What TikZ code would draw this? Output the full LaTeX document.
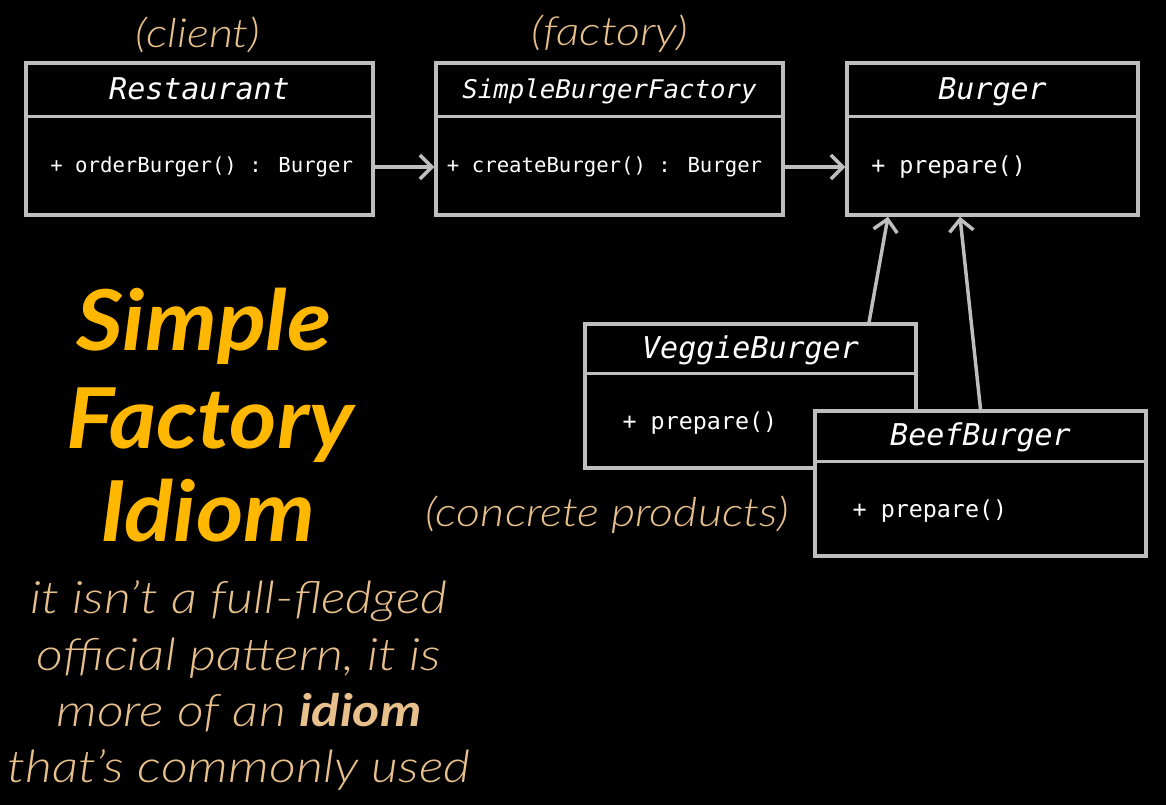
\documentclass[tikz,border=0pt]{standalone}
\usepackage{fontspec}
\usetikzlibrary{arrows.meta,calc}

\newfontfamily\codefont{DejaVu Sans Mono}
\newfontfamily\slidefont{Lato}[ItalicFont={Lato Light Italic},BoldItalicFont={Lato Bold Italic},FakeStretch=1.17]
\newfontfamily\headfont{Lato}[ItalicFont={Lato Light Italic},BoldItalicFont={Lato Bold Italic},FakeStretch=1.08]

\definecolor{boxgray}{HTML}{BEBEBE}
\definecolor{titleorange}{HTML}{FFB700}
\definecolor{notetan}{HTML}{E8C08C}

\tikzset{
  umlbox/.style={draw=boxgray, line width=2.6pt, fill=black, inner sep=0pt},
  divider/.style={draw=boxgray, line width=2.6pt},
  classname/.style={text=white, anchor=base, font=\codefont\itshape\fontsize{22.5}{26}\selectfont},
  method/.style={text=white, anchor=west, font=\codefont\fontsize{15.5}{18}\selectfont},
  bigmethod/.style={method, font=\codefont\fontsize{17.5}{20}\selectfont},
  note/.style={text=notetan, anchor=base, font=\slidefont\itshape\fontsize{30}{34}\selectfont},
  bigtitle/.style={text=titleorange, anchor=base, font=\headfont\bfseries\itshape\fontsize{63}{66}\selectfont},
  subtitle/.style={text=notetan, anchor=base, font=\slidefont\itshape\fontsize{33.5}{36}\selectfont},
  arr/.style={draw=boxgray, line width=2.6pt, -{Straight Barb[length=9pt,width=18pt,line width=2.6pt]}}
}

\begin{document}
\begin{tikzpicture}[x=0.75pt,y=-0.75pt]
  \fill[black] (0,0) rectangle (1166,805);
  \useasboundingbox (0,0) rectangle (1166,805);

  % top row
  \node[umlbox, minimum width=260.25pt, minimum height=114pt] (rest) at (199.5,139) {};
  \draw[divider] ([yshift=-41.25pt]rest.north west) -- ([yshift=-41.25pt]rest.north east);
  \node[classname] (restname) at ([yshift=-28.5pt]rest.north) {Restaurant};
  \node[method] (restop) at ([xshift=16pt,yshift=-21pt]rest.west) {+ orderBurger() : Burger};

  \node[umlbox, minimum width=260.25pt, minimum height=114pt] (fact) at (609.5,139) {};
  \draw[divider] ([yshift=-41.25pt]fact.north west) -- ([yshift=-41.25pt]fact.north east);
  \node[classname, font=\codefont\itshape\fontsize{19.3}{22}\selectfont] (factname) at ([yshift=-27.75pt]fact.north) {SimpleBurgerFactory};
  \node[method] (factop) at ([xshift=6pt,yshift=-21pt]fact.west) {+ createBurger() : Burger};

  \node[umlbox, minimum width=218.25pt, minimum height=114pt] (burger) at (992.5,139) {};
  \draw[divider] ([yshift=-41.25pt]burger.north west) -- ([yshift=-41.25pt]burger.north east);
  \node[classname] (burgername) at ([yshift=-28.5pt]burger.north) {Burger};
  \node[bigmethod] (burgerop) at ([xshift=16pt,yshift=-21pt]burger.west) {+ prepare()};

  % concrete products
  \node[umlbox, minimum width=248.25pt, minimum height=108pt] (veggie) at (750.5,396) {};
  \draw[divider] ([yshift=-38.25pt]veggie.north west) -- ([yshift=-38.25pt]veggie.north east);
  \node[classname] (veggiename) at ([yshift=-27pt]veggie.north) {VeggieBurger};
  \node[bigmethod] (veggieop) at ([xshift=26pt,yshift=-20.5pt]veggie.west) {+ prepare()};

  \node[umlbox, minimum width=248.25pt, minimum height=108.75pt] (beef) at (980.5,483.5) {};
  \draw[divider] ([yshift=-39pt]beef.north west) -- ([yshift=-39pt]beef.north east);
  \node[classname] (beefname) at ([yshift=-27pt]beef.north) {BeefBurger};
  \node[bigmethod] (beefop) at ([xshift=26pt,yshift=-20.5pt]beef.west) {+ prepare()};

  % arrows
  \draw[arr] ([yshift=-21pt]rest.east) -- ([yshift=-21pt]fact.west);
  \draw[arr] ([yshift=-21pt]fact.east) -- ([yshift=-21pt]burger.west);
  \draw[arr] ([xshift=88.9pt]veggie.north) -- ([xshift=-78.4pt]burger.south);
  \draw[arr] (beef.north) -- ([xshift=-24.4pt]burger.south);

  % role labels
  \node[note] (client) at (198,48) {(client)};
  \node[note] (factory) at (610,46) {(factory)};
  \node[note] (products) at (607,526) {(concrete products)};

  % left side
  \node[bigtitle] (simple) at (204,350) {Simple};
  \node[bigtitle] (factorytxt) at (210,448) {Factory};
  \node[bigtitle] (idiom) at (208,541) {Idiom};

  \node[subtitle] (sub1) at (239,613) {it isn’t a full-fledged};
  \node[subtitle] (sub2) at (239,670) {official pattern, it is};
  \node[subtitle] (sub3) at (239,726) {more of an \textbf{\itshape idiom}};
  \node[subtitle] (sub4) at (239,782) {that’s commonly used};
\end{tikzpicture}
\end{document}
